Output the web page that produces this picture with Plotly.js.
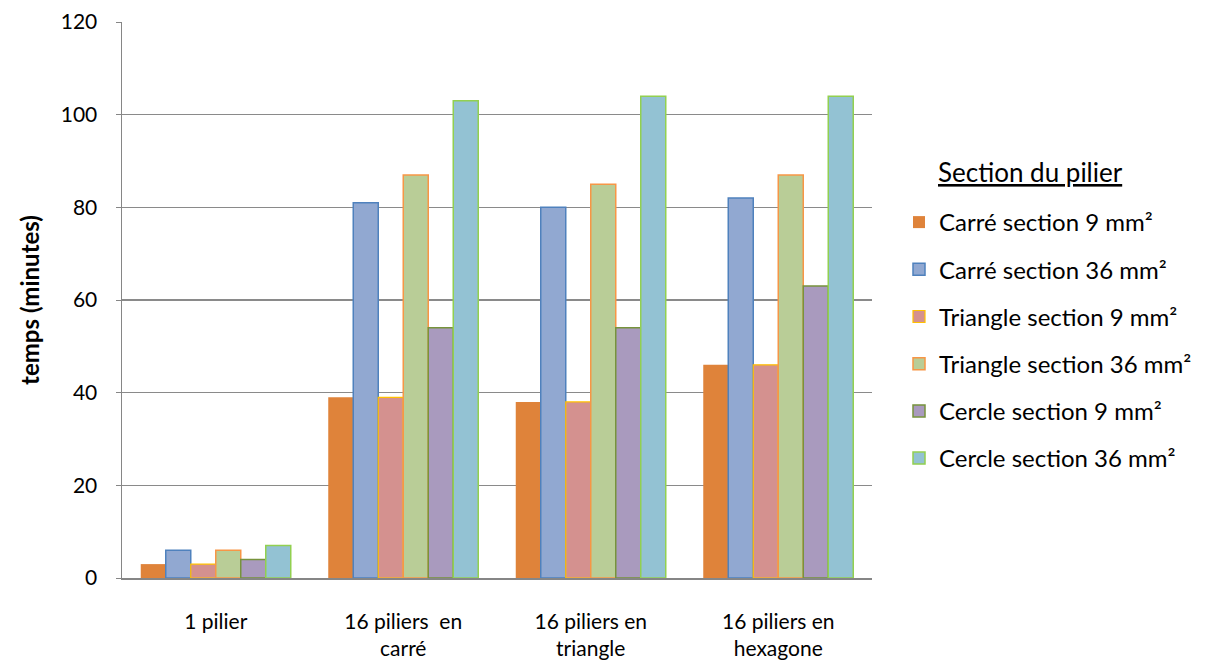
<!DOCTYPE html>
<html><head><meta charset="utf-8">
<script src="https://cdn.plot.ly/plotly-3.0.1.min.js"></script>
<style>body{margin:0;background:#fff}#c{width:1205px;height:668px}</style>
</head><body><div id="c"></div>
<script>
const categories = ["1 pilier", "16 piliers&nbsp; en<br>carré", "16 piliers en<br>triangle", "16 piliers en<br>hexagone"];
const seriesNames = ["Carré section 9 mm²", "Carré section 36 mm²", "Triangle section 9 mm²", "Triangle section 36 mm²", "Cercle section 9 mm²", "Cercle section 36 mm²"];
const legendTitle = "Section du pilier";
const carre9 = [3, 39, 38, 46];
const carre36 = [6, 81, 80, 82];
const triangle9 = [3, 39, 38, 46];
const triangle36 = [6, 87, 85, 87];
const cercle9 = [4, 54, 54, 63];
const cercle36 = [7, 103, 104, 104];
const yTicks = [0, 20, 40, 60, 80, 100, 120];

const values = [carre9, carre36, triangle9, triangle36, cercle9, cercle36];
const fills = ["#DF833A", "#91A8D1", "#D4918F", "#B9CD97", "#A99ABE", "#93C2D3"];
const borders = ["#DF833A", "#4F81BD", "#FFC000", "#F79646", "#77933C", "#92D050"];
const bw = [0, 1.5, 1.2, 1.5, 1.5, 1.5];

const traces = values.map((v, i) => ({
  type: "bar", x: categories, y: v, name: seriesNames[i], legendgroup: "g" + i,
  marker: {color: fills[i], line: {color: borders[i], width: bw[i]}}
}));

const layout = {
  width: 1205, height: 668,
  margin: {l: 122, r: 333, t: 22, b: 90},
  paper_bgcolor: "#fff", plot_bgcolor: "#fff",
  font: {family: "Lato, 'Open Sans', sans-serif", size: 22, color: "#000"},
  barmode: "group", bargap: 0.2, bargroupgap: 0,
  showlegend: true,
  xaxis: {
    showline: true, linecolor: "#868686", linewidth: 1.5, ticks: "", showgrid: false,
    tickfont: {size: 21}, ticklabelstandoff: 24, fixedrange: true
  },
  yaxis: {
    range: [0, 120], tickvals: yTicks, ticktext: yTicks.map(String),
    showline: true, linecolor: "#868686", linewidth: 1.5,
    showgrid: true, gridcolor: "#8a8a8a", gridwidth: 1.5,
    ticks: "outside", ticklen: 5, tickcolor: "#868686", ticklabelstandoff: 14,
    zeroline: false, tickfont: {size: 21},
    title: {text: "<b>temps (minutes)</b>", font: {size: 24}, standoff: 14}
  },
  legend: {
    xref: "container", yref: "container",
    x: 899 / 1205, xanchor: "left", y: 1 - 200 / 668, yanchor: "top",
    font: {size: 24}, tracegroupgap: 13, itemwidth: 30,
    bgcolor: "rgba(0,0,0,0)"
  },
  annotations: [{
    xref: "paper", yref: "paper", x: (936 - 122) / 750, y: (578 - 172) / 556,
    xanchor: "left", yanchor: "middle", showarrow: false,
    text: "<u>" + legendTitle + "</u>", font: {size: 26}
  }]
};
Plotly.newPlot("c", traces, layout, {staticPlot: true});
</script></body></html>
